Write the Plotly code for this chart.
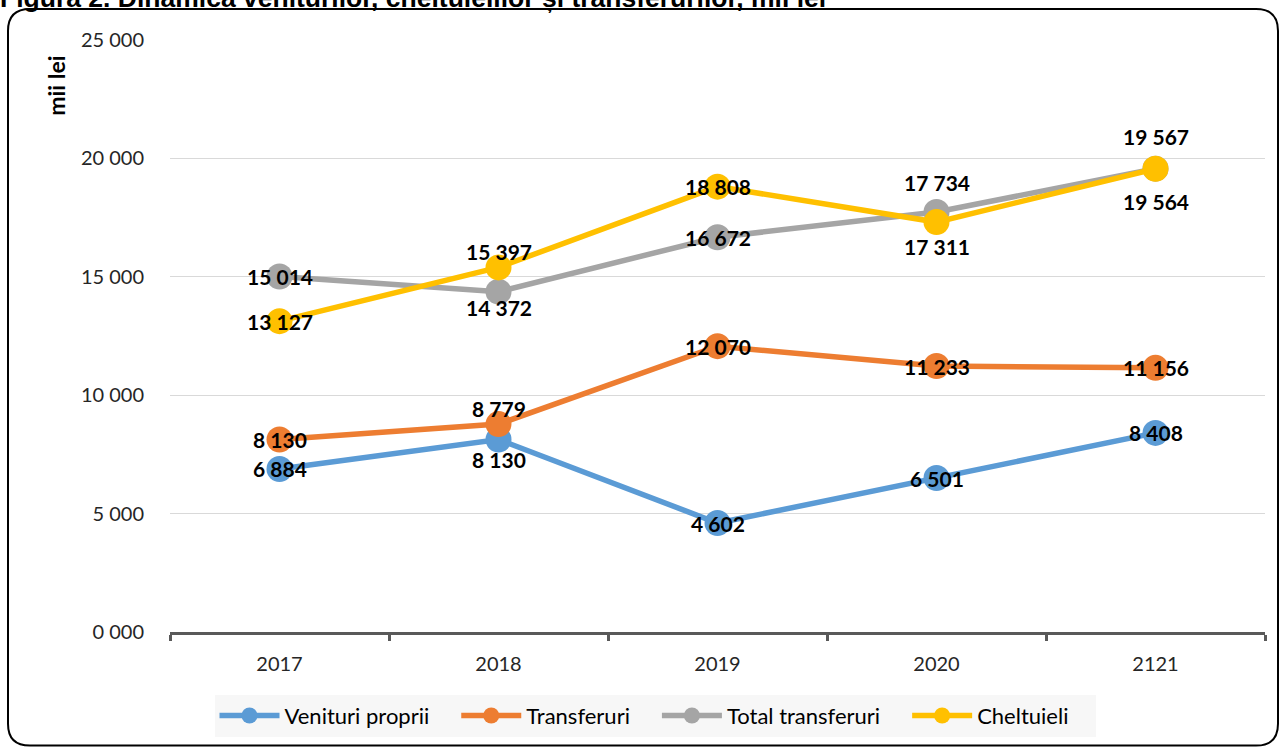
import plotly.graph_objects as go

years = ["2017", "2018", "2019", "2020", "2121"]
venituri_proprii = [6884, 8130, 4602, 6501, 8408]
transferuri = [8130, 8779, 12070, 11233, 11156]
total_transferuri = [15014, 14372, 16672, 17734, 19567]
cheltuieli = [13127, 15397, 18808, 17311, 19564]

# label vertical offsets in px (positive = up)
shift_venituri = [0, -20, 0, 0, 0]
shift_transferuri = [0, 16, 0, 0, 0]
shift_total = [0, -16, 0, 30, 32]
shift_chelt = [0, 16, 0, -24, -33]

y_ticks = [0, 5000, 10000, 15000, 20000, 25000]
y_ticktext = ["0 000", "5 000", "10 000", "15 000", "20 000", "25 000"]

W, H = 1279, 749
ML, MR, MT, MB = 170, 14, 40, 115
PW, PH = W - ML - MR, H - MT - MB


def px(x):
    return (x - ML) / PW


def py(y):
    return 1 - (y - MT) / PH


def fmt(v):
    return f"{v:,}".replace(",", " ")


series = [
    ("Venituri proprii", venituri_proprii, "#5B9BD5", shift_venituri),
    ("Transferuri", transferuri, "#ED7D31", shift_transferuri),
    ("Total transferuri", total_transferuri, "#A5A5A5", shift_total),
    ("Cheltuieli", cheltuieli, "#FFC000", shift_chelt),
]

GAP = "\u2002\u2002"

fig = go.Figure()
for name, vals, color, shifts in series:
    fig.add_trace(go.Scatter(
        x=years, y=vals, name=name + GAP, mode="lines+markers",
        line=dict(color=color, width=5.5),
        marker=dict(color=color, size=26),
        cliponaxis=False,
    ))

for name, vals, color, shifts in series:
    for i, (v, s) in enumerate(zip(vals, shifts)):
        fig.add_annotation(x=i, y=v, xref="x", yref="y", text=f"<b>{fmt(v)}</b>",
                           showarrow=False, yshift=s,
                           font=dict(family="Lato", size=21, color="black"))

# rounded border
x0, x1 = px(8), px(1278)
y0, y1 = py(748), py(9)
rx = 22 / PW
ry = 22 / PH
path = (f"M {x0+rx},{y1} L {x1-rx},{y1} Q {x1},{y1} {x1},{y1-ry} "
        f"L {x1},{y0+ry} Q {x1},{y0} {x1-rx},{y0} L {x0+rx},{y0} "
        f"Q {x0},{y0} {x0},{y0+ry} L {x0},{y1-ry} Q {x0},{y1} {x0+rx},{y1} Z")
fig.add_shape(type="path", path=path, xref="paper", yref="paper",
              line=dict(color="black", width=2), layer="below")

fig.add_annotation(x=px(56), y=py(86), xref="paper", yref="paper",
                   xanchor="center", yanchor="middle",
                   text="<b>mii lei</b>", textangle=-90, showarrow=False,
                   font=dict(family="Lato", size=23, color="black"))

fig.add_annotation(x=px(-2), y=py(-2), xref="paper", yref="paper",
                   xanchor="left", yanchor="middle",
                   text="<b>Figura 2. Dinamica veniturilor, cheltuielilor și transferurilor, mii lei</b>",
                   showarrow=False,
                   font=dict(family="Liberation Sans", size=26.5, color="black"))

fig.update_layout(
    width=W, height=H,
    margin=dict(l=ML, r=MR, t=MT, b=MB),
    paper_bgcolor="white", plot_bgcolor="white",
    font=dict(family="Lato", size=20, color="#262626"),
    showlegend=True,
    legend=dict(orientation="h", x=px(655), y=py(718), xanchor="center", yanchor="middle",
                bgcolor="#F7F7F7", font=dict(family="Lato", size=22, color="black"),
                itemwidth=60),
    xaxis=dict(type="category", range=[-0.5, 4.5], showline=True, linecolor="#595959",
               linewidth=3, ticks="outside", tickson="boundaries", ticklen=6,
               tickcolor="#595959", tickwidth=3, showgrid=False,
               tickfont=dict(family="Lato", size=20, color="#262626"),
               ticklabelstandoff=12),
    yaxis=dict(range=[0, 25000], tickvals=y_ticks, ticktext=y_ticktext,
               showgrid=True, gridcolor="#D9D9D9", gridwidth=1, zeroline=False,
               showline=False, ticks="", ticklabelstandoff=25,
               tickfont=dict(family="Lato", size=20, color="#262626")),
)

fig.write_html("out.html", post_script="document.body.style.margin='0';",
               config={"displayModeBar": False})
